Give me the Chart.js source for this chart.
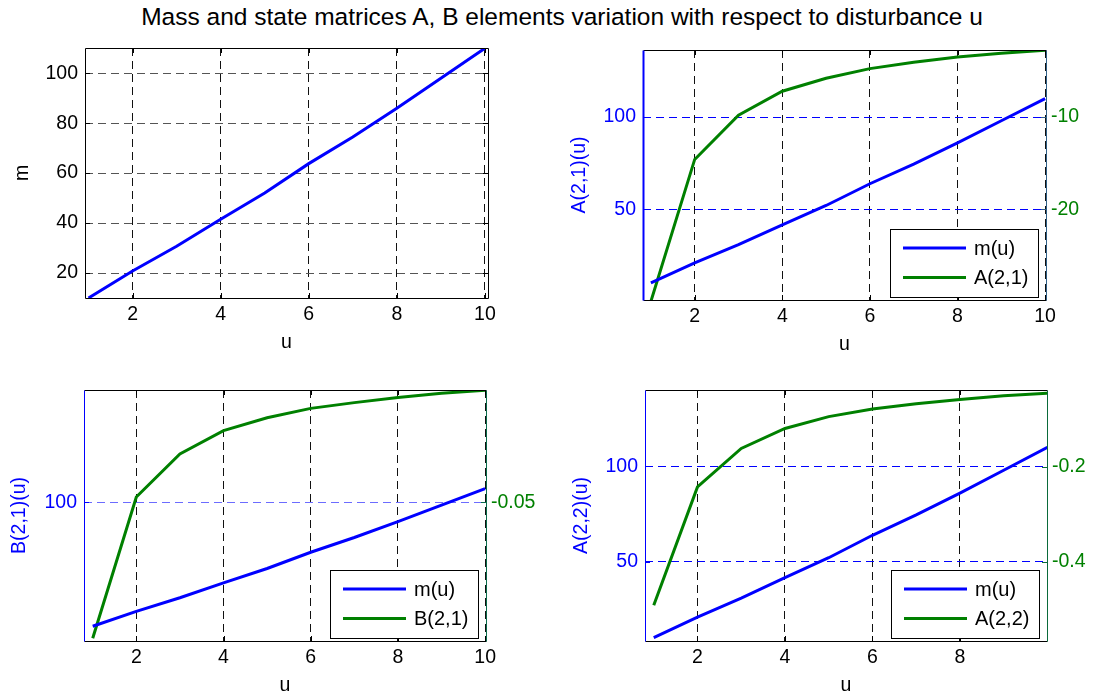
<!DOCTYPE html>
<html>
<head>
<meta charset="utf-8">
<title>Mass and state matrices</title>
<script src="https://cdn.jsdelivr.net/npm/chart.js@4.4.0/dist/chart.umd.min.js"></script>
<style>
	html, body { margin: 0; padding: 0; width: 1100px; height: 695px; overflow: hidden; background: #fff; }
	#title { position: absolute; left: 0; top: 3px; width: 1124px; text-align: center;
		font: 24.5px "Liberation Sans", Arial, sans-serif; color: #000; white-space: nowrap; }
	canvas { position: absolute; }
</style>
</head>
<body>
<div id="title">Mass and state matrices A, B elements variation with respect to disturbance u</div>
<canvas id="c1"></canvas>
<canvas id="c2"></canvas>
<canvas id="c3"></canvas>
<canvas id="c4"></canvas>
<script>
// data
const u = [1, 2, 3, 4, 5, 6, 7, 8, 9, 10];
const m = [10, 20.8, 30.7, 41.5, 52, 63.8, 74.5, 86, 98, 110];
const a21 = [-30, -14.6, -9.8, -7.2, -5.8, -4.75, -4.05, -3.5, -3.08, -2.75];
const b21 = [-0.0995, -0.048, -0.0323, -0.0238, -0.0191, -0.0157, -0.0136, -0.0117, -0.0102, -0.0091];
const a22 = [-0.492, -0.243, -0.162, -0.12, -0.095, -0.079, -0.068, -0.059, -0.051, -0.046];

// tick labels
const uTicks = [2, 4, 6, 8, 10];
const mTicks = [20, 40, 60, 80, 100];
const leftTicks2 = [50, 100];
const rightTicks2 = [-20, -10];
const leftTicks3 = [100];
const rightTicks3 = [-0.05];
const leftTicks4 = [50, 100];
const rightTicks4 = [-0.4, -0.2];

const BLUE = '#0000ff';
const GREEN = '#008000';
const FONT = '"Liberation Sans", Arial, sans-serif';

function pts(ys) {
	return u.map((x, i) => ({ x: x, y: ys[i] }));
}

function fixTicks(list) {
	return function (s) {
		s.ticks = list.filter(v => v >= s.min && v <= s.max).map(v => ({ value: v }));
	};
}

// frame, inner tick marks and boxed legend drawn on top of the plot
const framePlugin = {
	id: 'frame',
	afterDatasetsDraw(chart, args, opts) {
		const { ctx, chartArea: a, scales } = chart;
		ctx.save();
		ctx.setLineDash([]);
		ctx.lineWidth = 1;
		// inner ticks
		ctx.strokeStyle = '#000';
		scales.x.ticks.forEach(t => {
			const px = Math.round(scales.x.getPixelForValue(t.value)) + 0.5;
			ctx.beginPath();
			ctx.moveTo(px, a.bottom); ctx.lineTo(px, a.bottom - 5);
			ctx.moveTo(px, a.top); ctx.lineTo(px, a.top + 5);
			ctx.stroke();
		});
		['y', 'y1'].forEach(id => {
			const s = scales[id];
			if (!s) return;
			ctx.strokeStyle = id === 'y' ? opts.left : opts.right;
			s.ticks.forEach(t => {
				const py = Math.round(s.getPixelForValue(t.value)) + 0.5;
				ctx.beginPath();
				if (id === 'y') { ctx.moveTo(a.left, py); ctx.lineTo(a.left + 5, py); }
				if (id === 'y1' || !scales.y1) { ctx.moveTo(a.right, py); ctx.lineTo(a.right - 5, py); }
				ctx.stroke();
			});
		});
		// box
		const l = Math.round(a.left) + 0.5, r = Math.round(a.right) + 0.5;
		const t = Math.round(a.top) + 0.5, b = Math.round(a.bottom) + 0.5;
		ctx.strokeStyle = '#000';
		ctx.beginPath();
		ctx.moveTo(l, t); ctx.lineTo(r, t);
		ctx.moveTo(l, b); ctx.lineTo(r, b);
		ctx.stroke();
		ctx.lineWidth = opts.leftWidth || 1;
		ctx.strokeStyle = opts.left;
		ctx.beginPath(); ctx.moveTo(l, t); ctx.lineTo(l, b); ctx.stroke();
		ctx.lineWidth = 1;
		ctx.strokeStyle = opts.right;
		ctx.beginPath(); ctx.moveTo(r, t); ctx.lineTo(r, b); ctx.stroke();

		// legend
		if (opts.legend) {
			const w = 148, h = 68;
			const x = Math.round(a.right - 8 - w), y = Math.round(a.bottom - 3 - h);
			ctx.fillStyle = '#fff';
			ctx.fillRect(x, y, w, h);
			ctx.strokeStyle = '#000';
			ctx.strokeRect(x + 0.5, y + 0.5, w, h);
			ctx.font = '20px ' + FONT;
			ctx.textBaseline = 'middle';
			chart.data.datasets.forEach((ds, i) => {
				const ry = y + 19 + i * 29.5;
				ctx.strokeStyle = ds.borderColor;
				ctx.lineWidth = 3;
				ctx.beginPath(); ctx.moveTo(x + 13, ry); ctx.lineTo(x + 76, ry); ctx.stroke();
				ctx.fillStyle = '#000';
				ctx.fillText(ds.label, x + 84, ry + 1);
			});
		}
		ctx.restore();
	}
};

function makeChart(c) {
	const el = document.getElementById(c.id);
	el.width = c.w; el.height = c.h;
	el.style.left = c.left + 'px'; el.style.top = c.top + 'px';

	const tickFont = { family: FONT, size: 19.5 };
	const scales = {
		x: {
			type: 'linear', min: c.x[0], max: c.x[1],
			afterBuildTicks: fixTicks(uTicks),
			afterFit: s => { s.height = 60; s.paddingLeft = 0; s.paddingRight = 0; },
			ticks: { color: '#000', font: tickFont, padding: 5, maxRotation: 0, autoSkip: false, callback: v => String(v) },
			grid: { color: '#111', lineWidth: 1, drawTicks: false },
			border: { display: false, dash: [8, 5] },
			title: { display: true, text: 'u', color: '#000', font: tickFont, padding: { top: 0, bottom: 3.3 } }
		},
		y: {
			type: 'linear', position: 'left', min: c.yl[0], max: c.yl[1],
			afterBuildTicks: fixTicks(c.lt),
			afterFit: s => { s.width = c.lw; s.paddingTop = 0; s.paddingBottom = 0; },
			ticks: { color: c.lc, font: tickFont, padding: 7, autoSkip: false, callback: v => String(v) },
			grid: { color: c.hgrid, lineWidth: 1, drawTicks: false },
			border: { display: false, dash: [8, 5] },
			title: { display: true, text: c.ytitle, color: c.lc, font: tickFont, padding: { top: c.tp, bottom: 0 } }
		}
	};
	const datasets = [{
		label: 'm(u)', data: pts(m), yAxisID: 'y',
		borderColor: BLUE, borderWidth: 3, pointRadius: 0, tension: 0, fill: false
	}];
	if (c.y2) {
		scales.y1 = {
			type: 'linear', position: 'right', min: c.yr[0], max: c.yr[1],
			afterBuildTicks: fixTicks(c.rt),
			afterFit: s => { s.width = c.rw; s.paddingTop = 0; s.paddingBottom = 0; },
			ticks: { color: GREEN, font: tickFont, padding: 5, autoSkip: false, callback: v => String(v) },
			grid: { display: false, drawTicks: false },
			border: { display: false }
		};
		datasets.push({
			label: c.y2label, data: pts(c.y2), yAxisID: 'y1',
			borderColor: GREEN, borderWidth: 3, pointRadius: 0, tension: 0, fill: false
		});
	}

	return new Chart(el, {
		type: 'line',
		data: { datasets: datasets },
		options: {
			responsive: false, animation: false, devicePixelRatio: 1,
			layout: { padding: { top: 10, right: c.pr || 0, left: 0, bottom: 0 } },
			scales: scales,
			plugins: {
				legend: { display: false },
				tooltip: { enabled: false },
				frame: { left: c.lc === BLUE ? BLUE : '#000', right: c.rc, leftWidth: c.lwid, legend: !!c.y2 }
			}
		},
		plugins: [framePlugin]
	});
}

// top left: m(u)
makeChart({
	id: 'c1', left: 0, top: 38, w: 510, h: 320, pr: 22, lw: 85, tp: 11.3,
	x: [0.92, 10.07], yl: [10, 110.1], lt: mTicks, lc: '#000', rc: '#000',
	hgrid: '#555', ytitle: 'm'
});

// top right: A(2,1)
makeChart({
	id: 'c2', left: 560, top: 40, w: 540, h: 320, lw: 83, rw: 54, tp: 8.3,
	x: [0.82, 10.02], yl: [0.7, 136.4], lt: leftTicks2, lc: BLUE, lwid: 2,
	yr: [-29.85, -2.73], rt: rightTicks2, rc: '#2f5f86',
	hgrid: BLUE, ytitle: 'A(2,1)(u)', y2: a21, y2label: 'A(2,1)'
});

// bottom left: B(2,1)
makeChart({
	id: 'c3', left: 0, top: 380, w: 546, h: 321, lw: 84, rw: 60, tp: 8.3,
	x: [0.8, 10.02], yl: [-0.7, 181.7], lt: leftTicks3, lc: BLUE,
	yr: [-0.1005, -0.009], rt: rightTicks3, rc: '#0a6a4a',
	hgrid: '#6c6cff', ytitle: 'B(2,1)(u)', y2: b21, y2label: 'B(2,1)'
});

// bottom right: A(2,2)
makeChart({
	id: 'c4', left: 560, top: 380, w: 540, h: 321, lw: 85, rw: 53, tp: 10.3,
	x: [0.8, 9.99], yl: [8.2, 140.2], lt: leftTicks4, lc: BLUE,
	yr: [-0.567, -0.039], rt: rightTicks4, rc: '#0a6a3a',
	hgrid: BLUE, ytitle: 'A(2,2)(u)', y2: a22, y2label: 'A(2,2)'
});
</script>
</body>
</html>
